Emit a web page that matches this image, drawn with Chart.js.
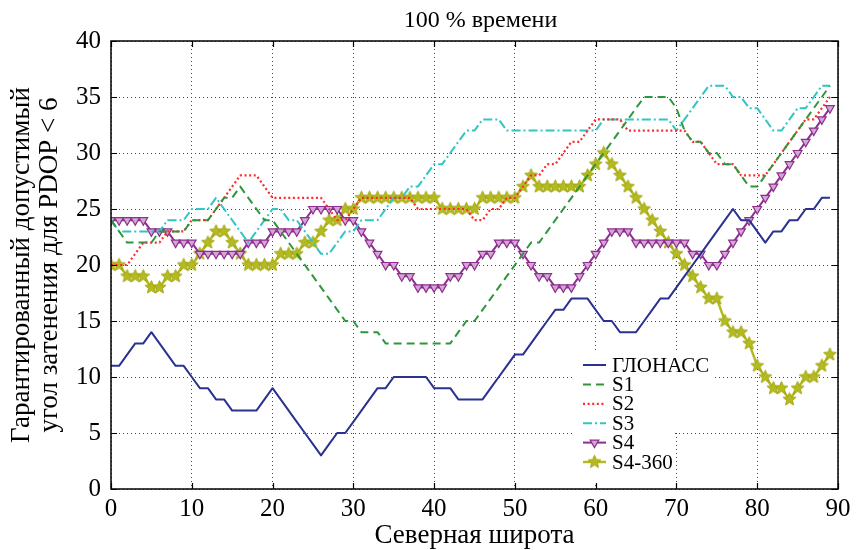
<!DOCTYPE html>
<html>
<head>
<meta charset="utf-8">
<script src="https://cdn.jsdelivr.net/npm/chart.js@4.4.0/dist/chart.umd.min.js"></script>
<style>
  html, body { margin: 0; padding: 0; background: #fff; }
  #wrap { width: 858px; height: 550px; }
</style>
</head>
<body>
<div id="wrap"><canvas id="c" width="858" height="550"></canvas></div>
<script>
// Northern latitude, degrees
const latitudes = [
   0, 1, 2, 3, 4, 5, 6, 7, 8, 9,
  10,11,12,13,14,15,16,17,18,19,
  20,21,22,23,24,25,26,27,28,29,
  30,31,32,33,34,35,36,37,38,39,
  40,41,42,43,44,45,46,47,48,49,
  50,51,52,53,54,55,56,57,58,59,
  60,61,62,63,64,65,66,67,68,69,
  70,71,72,73,74,75,76,77,78,79,
  80,81,82,83,84,85,86,87,88,89
];

// Guaranteed admissible masking angle, degrees
const glonass = [
  11,11,12,13,13,14,13,12,11,11,
  10, 9, 9, 8, 8, 7, 7, 7, 7, 8,
   9, 8, 7, 6, 5, 4, 3, 4, 5, 5,
   6, 7, 8, 9, 9,10,10,10,10,10,
   9, 9, 9, 8, 8, 8, 8, 9,10,11,
  12,12,13,14,15,16,16,17,17,17,
  16,15,15,14,14,14,15,16,17,17,
  18,19,20,21,22,23,24,25,24,24,
  23,22,23,23,24,24,25,25,26,26
];
const s1 = [
  24,23,22,22,22,22,23,23,23,23,
  24,24,24,25,26,26,27,26,25,24,
  24,23,22,21,20,19,18,17,16,15,
  15,14,14,14,13,13,13,13,13,13,
  13,13,13,14,15,15,16,17,18,19,
  20,21,22,22,23,24,25,26,27,28,
  29,30,31,32,33,34,35,35,35,35,
  34,32,31,31,30,30,29,29,28,27,
  27,28,29,30,31,32,33,34,35,36
];
const s2 = [
  20,20,20,21,22,22,22,23,23,23,
  24,24,24,25,26,27,28,28,28,27,
  26,26,26,26,26,26,26,25,24,24,
  25,26,26,26,26,26,26,26,25,25,
  25,25,25,25,25,24,24,25,25,26,
  26,27,28,28,29,29,30,31,31,32,
  33,33,33,33,32,32,32,32,32,32,
  32,32,31,31,30,29,29,29,28,28,
  28,28,29,30,31,32,33,33,34,35
];
const s3 = [
  24,23,23,23,23,23,23,24,24,24,
  25,25,25,26,25,24,23,22,23,24,
  25,25,24,24,23,22,21,21,22,23,
  23,24,24,24,25,26,26,27,27,28,
  29,29,30,31,32,32,33,33,33,32,
  32,32,32,32,32,32,32,32,32,32,
  32,33,33,33,33,33,33,33,33,33,
  32,33,34,35,36,36,36,35,35,34,
  34,33,32,32,33,34,34,35,36,36
];
const s4 = [
  24,24,24,24,24,23,23,23,22,22,
  22,21,21,21,21,21,21,22,22,22,
  23,23,23,23,24,25,25,25,25,24,
  24,23,22,21,20,20,19,19,18,18,
  18,18,19,19,20,20,21,21,22,22,
  22,21,20,19,19,18,18,18,19,20,
  21,22,23,23,23,22,22,22,22,22,
  22,22,21,21,20,20,21,22,23,24,
  25,26,27,28,29,30,31,32,33,34
];
const s4_360 = [
  20,20,19,19,19,18,18,19,19,20,
  20,21,22,23,23,22,21,20,20,20,
  20,21,21,21,22,22,23,24,24,25,
  25,26,26,26,26,26,26,26,26,26,
  26,25,25,25,25,25,26,26,26,26,
  26,27,28,27,27,27,27,27,27,28,
  29,30,29,28,27,26,25,24,23,22,
  21,20,19,18,17,17,15,14,14,13,
  11,10, 9, 9, 8, 9,10,10,11,12
];

const seriesNames = ['ГЛОНАСС', 'S1', 'S2', 'S3', 'S4', 'S4-360'];
const xTickValues = [0, 10, 20, 30, 40, 50, 60, 70, 80, 90];
const yTickValues = [0, 5, 10, 15, 20, 25, 30, 35, 40];
const chartTitle = '100 % времени';
const xAxisTitle = 'Северная широта';
const yAxisTitle = ['Гарантированный допустимый', 'угол затенения для PDOP < 6'];

const SERIF = "'Liberation Serif', 'DejaVu Serif', serif";

// filled five-pointed star used as the S4-360 marker
function makeStar(r, fill, stroke) {
  const size = Math.ceil(r * 2 + 3);
  const cv = document.createElement('canvas');
  cv.width = size; cv.height = size;
  const g = cv.getContext('2d');
  const cx = size / 2, cy = size / 2;
  g.beginPath();
  for (let i = 0; i < 10; i++) {
    const ang = -Math.PI / 2 + i * Math.PI / 5;
    const rr = i % 2 === 0 ? r : r * 0.45;
    g.lineTo(cx + rr * Math.cos(ang), cy + rr * Math.sin(ang));
  }
  g.closePath();
  g.fillStyle = fill; g.fill();
  g.lineWidth = 1; g.strokeStyle = stroke; g.stroke();
  return cv;
}

const COL = {
  glonass: '#2b3190',
  s1: '#2f963c',
  s2: '#ff2a2a',
  s3: '#33c4c4',
  s4: '#8e2e8e',
  s4fill: '#d3a6d6',
  s4360: '#b4ba20'
};
const starImg = makeStar(6.8, COL.s4360, '#a3a814');

function pts(values) {
  return latitudes.map((lat, i) => ({ x: lat, y: values[i] }));
}

const datasets = [
  { label: seriesNames[0], data: pts(glonass), borderColor: COL.glonass, borderWidth: 2, pointRadius: 0 },
  { label: seriesNames[1], data: pts(s1), borderColor: COL.s1, borderWidth: 2, borderDash: [8, 5], pointRadius: 0 },
  { label: seriesNames[2], data: pts(s2), borderColor: COL.s2, borderWidth: 2.2, borderDash: [2, 2.6], pointRadius: 0 },
  { label: seriesNames[3], data: pts(s3), borderColor: COL.s3, borderWidth: 2, borderDash: [9, 3, 2, 3], pointRadius: 0 },
  { label: seriesNames[4], data: pts(s4), borderColor: COL.s4, borderWidth: 2, pointStyle: 'triangle', rotation: 180,
    pointRadius: 5, pointBorderWidth: 1.2, pointBorderColor: COL.s4, pointBackgroundColor: COL.s4fill },
  { label: seriesNames[5], data: pts(s4_360), borderColor: COL.s4360, borderWidth: 2.5, pointStyle: starImg, pointRadius: 6 }
].map(d => Object.assign({ fill: false, tension: 0, borderJoinStyle: 'round' }, d));

// frame with inward ticks, title and an in-plot legend
const decorations = {
  id: 'decorations',
  beforeDatasetsDraw(chart) {
    const { ctx, chartArea: a } = chart;
    ctx.save();
    ctx.fillStyle = '#fff';
    ctx.fillRect(a.right - 263, a.bottom - 138, 137, 82);
    ctx.fillRect(a.right - 263, a.bottom - 57, 100, 50);
    ctx.restore();
  },
  afterDatasetsDraw(chart) {
    const { ctx, chartArea: a, scales: { x, y } } = chart;
    ctx.save();
    ctx.strokeStyle = '#000';
    ctx.lineWidth = 1.2;
    ctx.setLineDash([]);
    ctx.beginPath();
    xTickValues.forEach(v => {
      const px = Math.round(x.getPixelForValue(v)) + 0.5;
      ctx.moveTo(px, a.bottom); ctx.lineTo(px, a.bottom - 6);
      ctx.moveTo(px, a.top); ctx.lineTo(px, a.top + 6);
    });
    yTickValues.forEach(v => {
      const py = Math.round(y.getPixelForValue(v)) + 0.5;
      ctx.moveTo(a.left, py); ctx.lineTo(a.left + 6, py);
      ctx.moveTo(a.right, py); ctx.lineTo(a.right - 6, py);
    });
    ctx.stroke();
    ctx.lineWidth = 1.5;
    ctx.strokeRect(a.left, a.top, a.right - a.left, a.bottom - a.top);

    // title
    ctx.fillStyle = '#000';
    ctx.font = '24px ' + SERIF;
    ctx.textAlign = 'center';
    ctx.textBaseline = 'middle';
    ctx.fillText(chartTitle, (a.left + a.right) / 2 + 6, 21);

    // legend
    const lx = a.right - 255, ly = a.bottom - 124, step = 19.4, len = 23;
    ctx.font = '21px ' + SERIF;
    ctx.textAlign = 'left';
    chart.data.datasets.forEach((ds, i) => {
      const yy = ly + i * step;
      ctx.save();
      ctx.strokeStyle = ds.borderColor;
      ctx.lineWidth = ds.borderWidth;
      ctx.setLineDash(ds.borderDash || []);
      ctx.beginPath();
      ctx.moveTo(lx, yy); ctx.lineTo(lx + len, yy);
      ctx.stroke();
      ctx.setLineDash([]);
      if (ds.pointStyle === 'triangle') {
        ctx.fillStyle = ds.pointBackgroundColor;
        ctx.strokeStyle = ds.pointBorderColor;
        ctx.lineWidth = ds.pointBorderWidth;
        Chart.helpers.drawPoint(ctx, { pointStyle: 'triangle', rotation: 180, radius: ds.pointRadius, borderWidth: ds.pointBorderWidth }, lx + len / 2, yy);
      } else if (ds.pointStyle instanceof HTMLCanvasElement) {
        const im = ds.pointStyle;
        ctx.drawImage(im, lx + len / 2 - im.width / 2, yy - im.height / 2);
      }
      ctx.restore();
      ctx.fillStyle = '#000';
      ctx.fillText(ds.label, lx + len + 6, yy + 1);
    });
    ctx.restore();
  }
};

const tickFont = { family: SERIF, size: 25 };
const titleFont = { family: SERIF, size: 27, lineHeight: 1.04 };

new Chart(document.getElementById('c'), {
  type: 'line',
  data: { datasets },
  options: {
    responsive: false,
    animation: false,
    events: [],
    devicePixelRatio: 1,
    layout: { padding: { top: 41, right: 20, bottom: 0, left: 0 } },
    plugins: { legend: { display: false }, tooltip: { enabled: false }, title: { display: false } },
    scales: {
      x: {
        type: 'linear', min: 0, max: 90,
        afterBuildTicks: s => { s.ticks = xTickValues.map(v => ({ value: v })); },
        afterFit: s => { s.height = 61; },
        grid: { color: '#444', lineWidth: 1, drawTicks: false },
        border: { display: false, dash: [1, 3] },
        ticks: { color: '#000', font: tickFont, padding: 5, maxRotation: 0, autoSkip: false },
        title: { display: true, text: xAxisTitle, color: '#000', font: titleFont, padding: { top: 0, bottom: 0 } }
      },
      y: {
        type: 'linear', min: 0, max: 40,
        afterBuildTicks: s => { s.ticks = yTickValues.map(v => ({ value: v })); },
        afterFit: s => { s.width = 111; },
        grid: { color: '#444', lineWidth: 1, drawTicks: false },
        border: { display: false, dash: [1, 3] },
        ticks: { color: '#000', font: tickFont, padding: 10, autoSkip: false },
        title: { display: true, text: yAxisTitle, color: '#000', font: titleFont, padding: { top: 8, bottom: 0 } }
      }
    }
  },
  plugins: [decorations]
});
</script>
</body>
</html>
